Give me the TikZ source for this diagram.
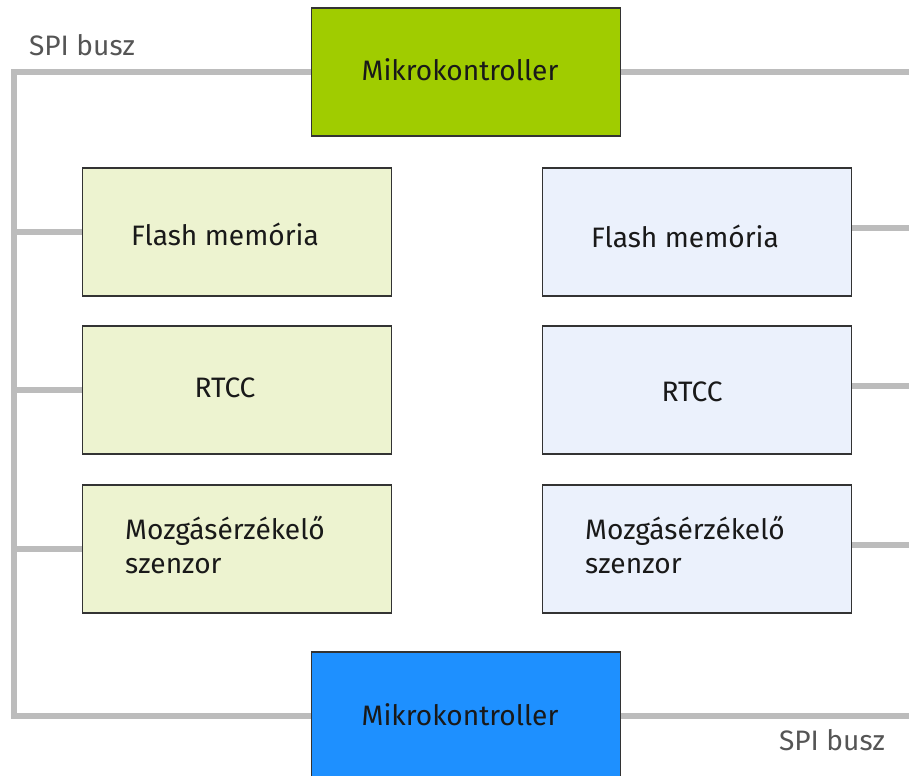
\documentclass[tikz,border=0pt]{standalone}
\usepackage{fontspec}
\setmainfont{Fira Sans}
\usepackage{tikz}
\usetikzlibrary{calc}

\definecolor{mcugreen}{RGB}{160,204,0}
\definecolor{mcublue}{RGB}{30,144,255}
\definecolor{boxgreen}{RGB}{237,243,208}
\definecolor{boxblue}{RGB}{235,241,252}
\definecolor{busgray}{RGB}{188,188,188}
\definecolor{labelgray}{RGB}{85,85,85}

\tikzset{
    block/.style={draw=black!80, line width=1pt, minimum width=6.18cm, minimum height=2.56cm, inner sep=0pt},
    txt/.style={font=\fontsize{16}{19.5}\selectfont, text=black!90, align=left},
    bus/.style={draw=busgray, line width=3.2pt},
    buslabel/.style={font=\fontsize{16}{19.5}\selectfont, text=labelgray}
}

\begin{document}
\begin{tikzpicture}[x=0.02cm, y=-0.02cm]
        \useasboundingbox (0,0) rectangle (909,776);
        \clip (0,0) rectangle (909,776);

        % Microcontrollers
        \node[block, fill=mcugreen] (mcuTop) at (466,72) {};
        \node[block, fill=mcublue] (mcuBot) at (466,716) {};
        \node[txt] (mcuTopt) at ($(mcuTop)+(-6,-2)$) {Mikrokontroller};
        \node[txt] (mcuBott) at ($(mcuBot)+(-6,-1)$) {Mikrokontroller};

        % Left peripherals
        \node[block, fill=boxgreen] (flashL) at (237,232) {};
        \node[block, fill=boxgreen] (rtccL) at (237,390) {};
        \node[block, fill=boxgreen] (sensL) at (237,549) {};

        % Right peripherals
        \node[block, fill=boxblue] (flashR) at (697,232) {};
        \node[block, fill=boxblue] (rtccR) at (697,390) {};
        \node[block, fill=boxblue] (sensR) at (697,549) {};

        % Texts
        \node[txt] (flashLt) at ($(flashL)+(-12,2)$) {Flash memória};
        \node[txt] (rtccLt) at ($(rtccL)+(-12,-2)$) {RTCC};
        \node[txt] (sensLt) at ($(sensL)+(-12,-4)$) {Mozgásérzékelő\\szenzor};
        \node[txt] (flashRt) at ($(flashR)+(-12,4)$) {Flash memória};
        \node[txt] (rtccRt) at ($(rtccR)+(-5,2)$) {RTCC};
        \node[txt] (sensRt) at ($(sensR)+(-12,-4)$) {Mozgásérzékelő\\szenzor};

        % Bus lines
        \coordinate (busL) at (14,400);
        \coordinate (busR) at (920,400);

        \draw[bus] (mcuTop.west) -| (busL) |- (mcuBot.west);
        \foreach \b in {flashL, rtccL, sensL}
            \draw[bus] (\b.west) -- (\b.west -| busL);

        \draw[bus] (mcuTop.east) -- (mcuTop.east -| busR);
        \draw[bus] (mcuBot.east) -- (mcuBot.east -| busR);
        \foreach \b in {flashR, rtccR, sensR}
            \draw[bus] ($(\b.east)+(0,-4)$) -- ($(\b.east -| busR)+(0,-4)$);

        % Labels
        \node[buslabel] (spiTop) at (82,45) {SPI busz};
        \node[buslabel] (spiBot) at (832,740) {SPI busz};
    \end{tikzpicture}
\end{document}
